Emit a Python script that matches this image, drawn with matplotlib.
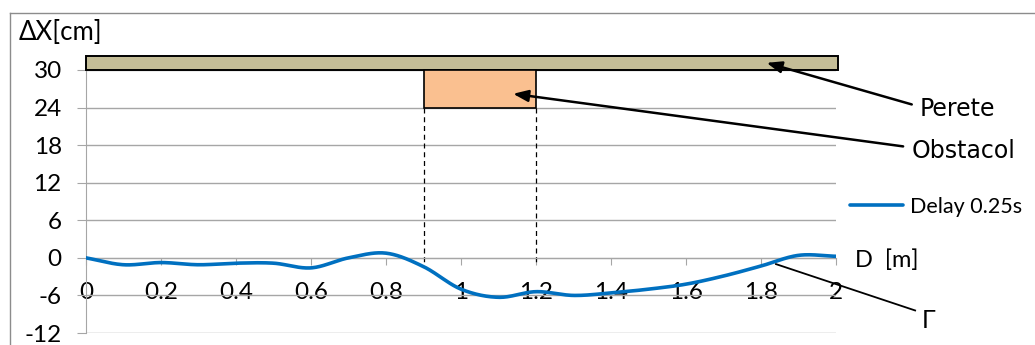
import numpy as np
import matplotlib
matplotlib.use("Agg")
import matplotlib.pyplot as plt
from matplotlib.patches import Rectangle
from matplotlib.lines import Line2D

plt.rcParams["axes.unicode_minus"] = False

# Measured lateral deviation along the path
distance_m = [0.0, 0.1, 0.2, 0.3, 0.4, 0.5, 0.6, 0.7, 0.8, 0.9, 1.0,
              1.1, 1.2, 1.3, 1.4, 1.5, 1.6, 1.7, 1.8, 1.9, 2.0]
delta_x_cm = [0.0, -1.1, -0.75, -1.1, -0.85, -0.85, -1.6, 0.0, 0.75, -1.4, -5.0,
              -6.3, -5.4, -6.0, -5.6, -5.0, -4.2, -2.9, -1.3, 0.4, 0.25]
series_name = "Delay 0.25s"

x_ticks = [0, 0.2, 0.4, 0.6, 0.8, 1.0, 1.2, 1.4, 1.6, 1.8, 2.0]
x_tick_labels = ["0", "0.2", "0.4", "0.6", "0.8", "1", "1.2", "1.4", "1.6", "1.8", "2"]
y_ticks = [-12, -6, 0, 6, 12, 18, 24, 30]

# Wall and obstacle geometry (m, cm)
wall_x = [0.0, 2.005]
wall_y = [30.0, 32.2]
obstacle_x = [0.9, 1.2]
obstacle_y = [24.0, 30.0]


def catmull_rom(x, y, n=30):
    x = np.asarray(x, float)
    y = np.asarray(y, float)
    px = np.concatenate([[2 * x[0] - x[1]], x, [2 * x[-1] - x[-2]]])
    py = np.concatenate([[2 * y[0] - y[1]], y, [2 * y[-1] - y[-2]]])
    xs, ys = [], []
    t = np.linspace(0, 1, n, endpoint=False)
    for i in range(1, len(px) - 2):
        for arr, out in ((px, xs), (py, ys)):
            p0, p1, p2, p3 = arr[i - 1], arr[i], arr[i + 1], arr[i + 2]
            out.extend(0.5 * ((2 * p1) + (-p0 + p2) * t
                              + (2 * p0 - 5 * p1 + 4 * p2 - p3) * t ** 2
                              + (-p0 + 3 * p1 - 3 * p2 + p3) * t ** 3))
    xs.append(x[-1])
    ys.append(y[-1])
    return np.array(xs), np.array(ys)


W, H = 1035, 345
fig = plt.figure(figsize=(W / 100, H / 100), dpi=100)
ax = fig.add_axes([86 / W, 1 - 333 / H, 750 / W, 263 / H])

cal = ["Lato", "DejaVu Sans"]
grid_c = "#a6a6a6"
tick_fs = 17.5

ax.set_xlim(0, 2)
ax.set_ylim(-12, 30)
for s in ("top", "right"):
    ax.spines[s].set_visible(False)
ax.spines["left"].set_color(grid_c)
ax.spines["bottom"].set_color(grid_c)
ax.spines["bottom"].set_position(("data", 0))

ax.set_yticks(y_ticks)
ax.set_xticks(x_ticks)
ax.set_xticklabels(x_tick_labels)
ax.yaxis.grid(True, color=grid_c, lw=1.0)
ax.set_axisbelow(True)
ax.tick_params(axis="y", length=6.5, color=grid_c, labelsize=tick_fs, pad=11)
ax.tick_params(axis="x", length=5, color=grid_c, labelsize=tick_fs, pad=12.5)
for lab in ax.get_xticklabels() + ax.get_yticklabels():
    lab.set_family(cal)

# smoothed deviation curve
sx, sy = catmull_rom(distance_m, delta_x_cm)
ax.plot(sx, sy, color="#0070C0", lw=2.6, zorder=3, label=series_name,
        solid_capstyle="round")

# wall and obstacle
ax.add_patch(Rectangle((wall_x[0], wall_y[0]), wall_x[1] - wall_x[0],
                       wall_y[1] - wall_y[0], facecolor="#C4BD97",
                       edgecolor="black", lw=1.4, clip_on=False, zorder=4))
ax.add_patch(Rectangle((obstacle_x[0], obstacle_y[0]), obstacle_x[1] - obstacle_x[0],
                       obstacle_y[1] - obstacle_y[0], facecolor="#FAC090",
                       edgecolor="black", lw=1.2, clip_on=False, zorder=4))
for xv in obstacle_x:
    ax.plot([xv, xv], [obstacle_y[0], -1.1], color="black", lw=0.9,
            ls=(0, (4, 3)), zorder=2)

# annotations
arrow = dict(arrowstyle="-|>,head_length=0.9,head_width=0.35", color="black",
             lw=1.8, shrinkA=0, shrinkB=0)
ax.annotate("", xy=(1.815, 31.15), xytext=(2.202, 24.5),
            arrowprops=arrow, annotation_clip=False, zorder=5)
ax.annotate("", xy=(1.139, 26.2), xytext=(2.179, 17.8),
            arrowprops=arrow, annotation_clip=False, zorder=5)
ax.text(2.222, 23.7, "Perete", fontsize=17, family="DejaVu Sans",
        va="center", ha="left", clip_on=False)
ax.text(2.202, 17.0, "Obstacol", fontsize=17, family="DejaVu Sans",
        va="center", ha="left", clip_on=False)
ax.plot([1.84, 2.211], [-1.0, -8.4], color="black", lw=1.3,
        clip_on=False, zorder=5)
ax.text(2.228, -10.0, "Γ", fontsize=18, family=cal, va="center",
        ha="left", clip_on=False)

ax.text(2.05, -0.3, "D  [m]", fontsize=17, family=cal, va="center",
        ha="left", clip_on=False)
fig.text(19 / W, 1 - 33 / H, "ΔX[cm]", fontsize=18.5, family=cal,
         va="center", ha="left")

leg = ax.legend(loc="center left", bbox_to_anchor=(850 / W, 1 - 207 / H),
                bbox_transform=fig.transFigure, frameon=False,
                prop={"family": cal, "size": 15.5}, handlelength=2.45,
                handletextpad=0.33, borderaxespad=0, borderpad=0)

# outer chart frame
fig.add_artist(Line2D([10 / W, 10 / W], [0, 1 - 13 / H], color="#8c8c8c",
                      lw=1.0, transform=fig.transFigure))
fig.add_artist(Line2D([10 / W, 1], [1 - 13 / H, 1 - 13 / H], color="#8c8c8c",
                      lw=1.0, transform=fig.transFigure))

fig.savefig("out.png", dpi=100)
